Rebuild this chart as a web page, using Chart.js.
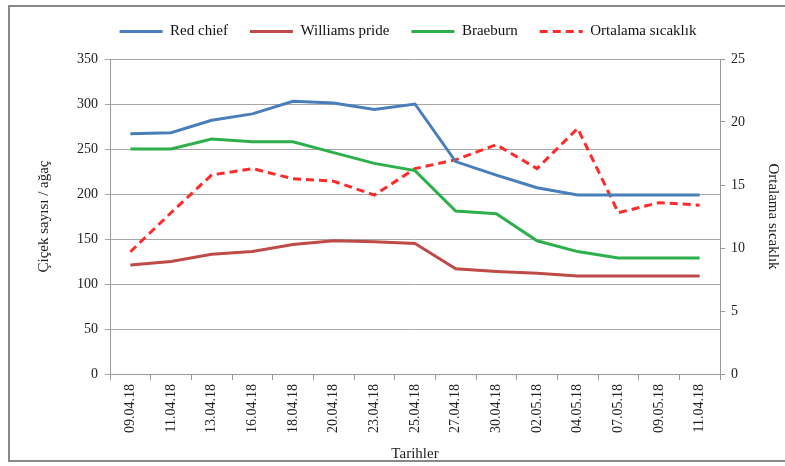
<!DOCTYPE html>
<html>
<head>
<meta charset="utf-8">
<script src="https://cdn.jsdelivr.net/npm/chart.js@4"></script>
<style>
  html, body { margin: 0; padding: 0; background: #fff; }
  #wrap { position: absolute; left: 8px; top: 5px; width: 785px; height: 457px; border-left: 2px solid #888; border-top: 2px solid #888; border-bottom: 2px solid #888; box-sizing: border-box; }
  #box { position: absolute; left: 0; top: 0; width: 785px; height: 466px; }
</style>
</head>
<body>
<div id="wrap"></div>
<div id="box"><canvas id="chart" width="785" height="466"></canvas></div>
<script>
// dates on the x axis
const dates = ['09.04.18', '11.04.18', '13.04.18', '16.04.18', '18.04.18', '20.04.18', '23.04.18', '25.04.18',
  '27.04.18', '30.04.18', '02.05.18', '04.05.18', '07.05.18', '09.05.18', '11.04.18'];

// flower counts per tree
const redChief = [267, 268, 282, 289, 303, 301, 294, 300, 236, 221, 207, 199, 199, 199, 199];
const williamsPride = [121, 125, 133, 136, 144, 148, 147, 145, 117, 114, 112, 109, 109, 109, 109];
const braeburn = [250, 250, 261, 258, 258, 246, 234, 226, 181, 178, 148, 136, 129, 129, 129];

// mean temperature (right axis)
const temperature = [9.7, 12.8, 15.8, 16.3, 15.5, 15.3, 14.2, 16.3, 17.0, 18.2, 16.3, 19.5, 12.8, 13.6, 13.4];

const leftTicks = [0, 50, 100, 150, 200, 250, 300, 350];
const rightTicks = [0, 5, 10, 15, 20, 25];

const serif = "'Liberation Serif', 'Times New Roman', serif";
Chart.defaults.font.family = serif;
Chart.defaults.color = '#222';

// extra space under the legend
const legendGap = {
  id: 'legendGap',
  beforeInit(chart) {
    const fit = chart.legend.fit;
    chart.legend.fit = function () {
      fit.bind(chart.legend)();
      this.height += 10;
    };
  }
};

const ctx = document.getElementById('chart');
new Chart(ctx, {
  type: 'line',
  data: {
    labels: dates,
    datasets: [
      { label: 'Red chief', data: redChief, borderColor: '#4A7EBB', yAxisID: 'y' },
      { label: 'Williams pride', data: williamsPride, borderColor: '#BE4B48', yAxisID: 'y' },
      { label: 'Braeburn', data: braeburn, borderColor: '#2DB04B', yAxisID: 'y' },
      { label: 'Ortalama sıcaklık', data: temperature, borderColor: '#FF2A2A', borderDash: [8, 5], yAxisID: 'y1' }
    ]
  },
  plugins: [legendGap],
  options: {
    responsive: false,
    animation: false,
    layout: { padding: { left: 31, right: 0, top: 2, bottom: 3 } },
    elements: {
      line: { borderWidth: 3, tension: 0, fill: false },
      point: { radius: 0 }
    },
    plugins: {
      tooltip: { enabled: false },
      legend: {
        position: 'top',
        labels: {
          usePointStyle: true,
          pointStyleWidth: 43,
          boxHeight: 3,
          padding: 22,
          font: { size: 15, family: serif },
          color: '#111',
          generateLabels: chart => chart.data.datasets.map((ds, i) => ({
            text: ds.label,
            strokeStyle: ds.borderColor,
            fillStyle: ds.borderColor,
            lineWidth: 3,
            lineDash: ds.borderDash || [],
            pointStyle: 'line',
            fontColor: '#111',
            datasetIndex: i
          }))
        }
      }
    },
    scales: {
      x: {
        offset: true,
        grid: { offset: true, drawOnChartArea: false, color: '#999', tickLength: 6 },
        border: { color: '#999' },
        ticks: { minRotation: 90, maxRotation: 90, autoSkip: false, font: { size: 14 }, padding: 4 },
        title: { display: true, text: 'Tarihler', font: { size: 15 }, padding: { top: 8, bottom: 0 } }
      },
      y: {
        position: 'left',
        min: 0, max: 350,
        afterBuildTicks: axis => { axis.ticks = leftTicks.map(v => ({ value: v })); },
        grid: { color: '#a6a6a6', tickLength: 5 },
        border: { color: '#999' },
        ticks: { font: { size: 14 }, padding: 7 },
        title: { display: true, text: 'Çiçek sayısı / ağaç', font: { size: 15 }, padding: { top: 4, bottom: 17 } }
      },
      y1: {
        position: 'right',
        min: 0, max: 25,
        afterBuildTicks: axis => { axis.ticks = rightTicks.map(v => ({ value: v })); },
        grid: { drawOnChartArea: false, color: '#999', tickLength: 5 },
        border: { color: '#999' },
        ticks: { font: { size: 14 }, padding: 6 },
        title: { display: true, text: 'Ortalama sıcaklık', font: { size: 15 }, padding: { top: 3, bottom: 13 } }
      }
    }
  }
});
</script>
</body>
</html>
